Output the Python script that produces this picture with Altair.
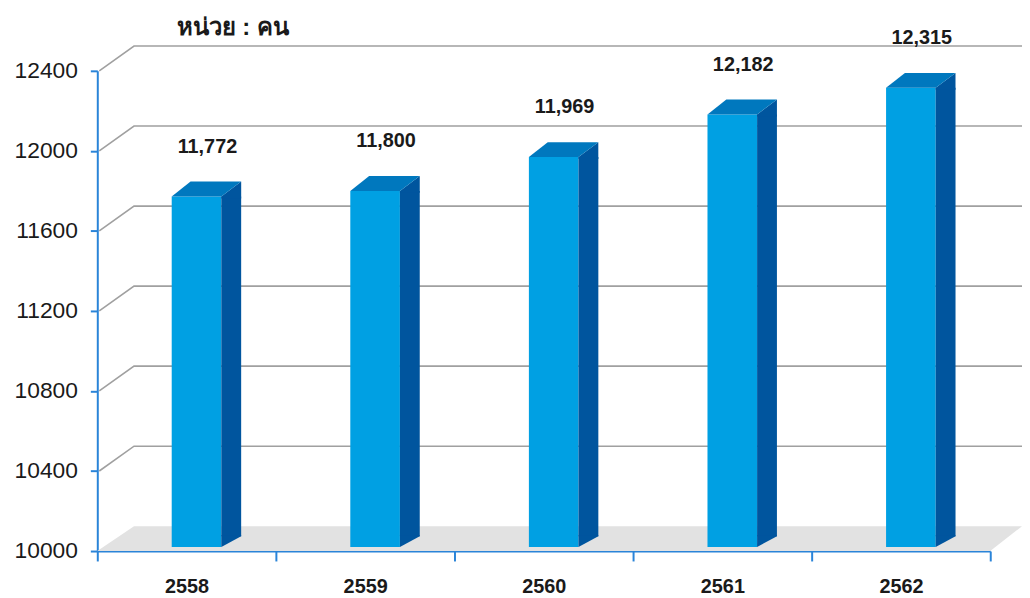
import altair as alt
import pandas as pd

# ---- data ----
years = ["2558", "2559", "2560", "2561", "2562"]
persons = [11772, 11800, 11969, 12182, 12315]
y_ticks = [10000, 10400, 10800, 11200, 11600, 12000, 12400]
grid_ticks = [10400, 10800, 11200, 11600, 12000, 12400]
unit_label = "หน่วย : คน"
y_min = 10000
y_max = 12400

df = pd.DataFrame({"year": years, "persons": persons, "base": [y_min] * len(years)})
grid_df = pd.DataFrame({"tick": grid_ticks})
floor_df = pd.DataFrame({"tick": [y_min]})

# ---- styles ----
W, H = 900, 484
FRONT = "#00A0E3"
SIDE = "#00559E"
TOP = "#0078BE"
AXIS = "#2A84D8"
GRID = "#A0A0A0"
FLOOR = "#E2E2E2"
TXT = "#1a1a1a"
FONT = "Liberation Sans"

y_scale = alt.Scale(domain=[y_min, y_max], nice=False, zero=False)
x_scale = alt.Scale(domain=years, paddingInner=0, paddingOuter=0)

x_axis = alt.Axis(title=None, tickBand="extent", labelAngle=0, labelFontSize=20,
                  labelFontWeight="bold", labelFont=FONT, labelColor=TXT, labelPadding=16,
                  tickSize=10, tickWidth=2, tickColor=AXIS, domainColor=AXIS, domainWidth=2,
                  grid=False)
y_axis = alt.Axis(title=None, values=y_ticks, format="d", labelFontSize=23, labelFont=FONT,
                  labelColor=TXT, labelPadding=13, tickSize=7, tickWidth=2, tickColor=AXIS,
                  domainColor=AXIS, domainWidth=2, grid=False)


def X():
    return alt.X("year:N", sort=years, scale=x_scale, axis=x_axis)


def Y(field):
    return alt.Y(field, scale=y_scale, axis=y_axis)


floor = alt.Chart(floor_df).mark_point(
    shape="M0,0 L37,-25 L932,-25 L900,0 Z", size=4, filled=True, fill=FLOOR,
    strokeWidth=0, opacity=1
).encode(x=alt.value(0), y=Y("tick:Q"))

grid = alt.Chart(grid_df).mark_point(
    shape="M2,0 L37,-25 L932,-25", size=4, filled=False, stroke=GRID,
    strokeWidth=1.6, opacity=1
).encode(x=alt.value(0), y=Y("tick:Q"))

front = alt.Chart(df).mark_bar(width=50, xOffset=10, color=FRONT, y2Offset=-4).encode(
    x=X(), y=Y("persons:Q"), y2="base:Q",
)

side_rect = alt.Chart(df).mark_bar(width=20, xOffset=45, color=SIDE, y2Offset=-15).encode(
    x=X(), y=Y("persons:Q"), y2="base:Q"
)

side_top = alt.Chart(df).mark_point(
    shape="M35,2 L35,0 L55,-15 L55,2 Z", size=4, filled=True, fill=SIDE,
    strokeWidth=0, opacity=1
).encode(x=X(), y=Y("persons:Q"))

side_bottom = alt.Chart(df).mark_point(
    shape="M35,-16 L55,-16 L55,-15 L35,-4 Z", size=4, filled=True, fill=SIDE,
    strokeWidth=0, opacity=1
).encode(x=X(), y=Y("base:Q"))

top = alt.Chart(df).mark_point(
    shape="M-15,0 L4,-15 L55,-15 L35,0 Z", size=4, filled=True, fill=TOP,
    strokeWidth=0, opacity=1
).encode(x=X(), y=Y("persons:Q"))

labels = alt.Chart(df).mark_text(
    dx=21, dy=-50, fontSize=20, fontWeight="bold", font=FONT, color=TXT,
    align="center", baseline="middle"
).encode(x=X(), y=Y("persons:Q"), text=alt.Text("persons:Q", format=","))

title = alt.Chart(floor_df).mark_text(
    fontSize=24, fontWeight="bold", color=TXT, align="left", baseline="middle"
).encode(x=alt.value(80), y=alt.value(-43), text=alt.datum(unit_label))

chart = alt.layer(
    floor, grid, front, side_rect, side_top, side_bottom, top, labels, title
).properties(
    width=W, height=H, autosize="none",
    padding={"left": 90, "top": 61, "right": 32, "bottom": 45},
).configure_view(strokeWidth=0)

chart.save("out.html", embed_options={"renderer": "svg", "actions": False})
